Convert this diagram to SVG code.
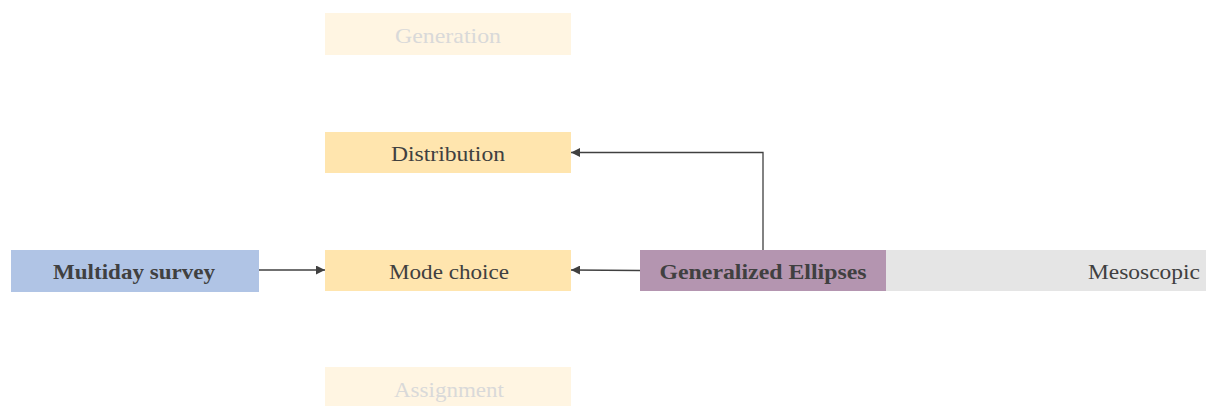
<svg xmlns="http://www.w3.org/2000/svg" width="1206" height="406" viewBox="0 0 1206 406">
  <style>
    .lbl { font-family: "Liberation Serif", "DejaVu Serif", serif; font-size: 21px; fill: #404040; text-anchor: middle; }
    .bold { font-weight: bold; }
    .faded { fill: #D9D9D9; }
    .step { fill: #FFE5AE; }
    .step-faded { fill: #FFF5E2; }
    .wire { fill: none; stroke: #404040; stroke-width: 1.3; }
  </style>
  <defs>
    <marker id="head" viewBox="0 0 10 10" refX="10" refY="5" markerWidth="9" markerHeight="9" markerUnits="userSpaceOnUse" orient="auto">
      <path d="M0,0 L10,5 L0,10 Z" fill="#404040"/>
    </marker>
  </defs>
  <rect width="1206" height="406" fill="#FFFFFF"/>

  <g id="generation">
    <rect class="step-faded" x="325" y="13" width="246" height="42"/>
    <text class="lbl faded" x="448" y="43" textLength="106" lengthAdjust="spacingAndGlyphs">Generation</text>
  </g>
  <g id="distribution">
    <rect class="step" x="325" y="132" width="246" height="41"/>
    <text class="lbl" x="448" y="161" textLength="114" lengthAdjust="spacingAndGlyphs">Distribution</text>
  </g>
  <g id="mode-choice">
    <rect class="step" x="325" y="250" width="246" height="41"/>
    <text class="lbl" x="449" y="279" textLength="120" lengthAdjust="spacingAndGlyphs">Mode choice</text>
  </g>
  <g id="assignment">
    <rect class="step-faded" x="325" y="367" width="246" height="39"/>
    <text class="lbl faded" x="449" y="397" textLength="110" lengthAdjust="spacingAndGlyphs">Assignment</text>
  </g>
  <g id="multiday-survey">
    <rect x="11" y="250" width="248" height="42" fill="#B0C4E5"/>
    <text class="lbl bold" x="134" y="279" textLength="162" lengthAdjust="spacingAndGlyphs">Multiday survey</text>
  </g>
  <g id="mesoscopic">
    <rect x="886" y="250" width="320" height="41" fill="#E5E5E5"/>
    <text class="lbl" x="1200" y="279" style="text-anchor:end" textLength="112" lengthAdjust="spacingAndGlyphs">Mesoscopic</text>
  </g>
  <g id="generalized-ellipses">
    <rect x="640" y="250" width="246" height="41" fill="#B495B0"/>
    <text class="lbl bold" x="763" y="279" textLength="207" lengthAdjust="spacingAndGlyphs">Generalized Ellipses</text>
  </g>

  <g id="connectors">
    <path class="wire" d="M259,270 L325,270" marker-end="url(#head)"/>
    <path class="wire" d="M640,270.5 L571,270" marker-end="url(#head)"/>
    <path class="wire" d="M763,250 L763,152.5 L571,152.5" marker-end="url(#head)"/>
  </g>
</svg>
